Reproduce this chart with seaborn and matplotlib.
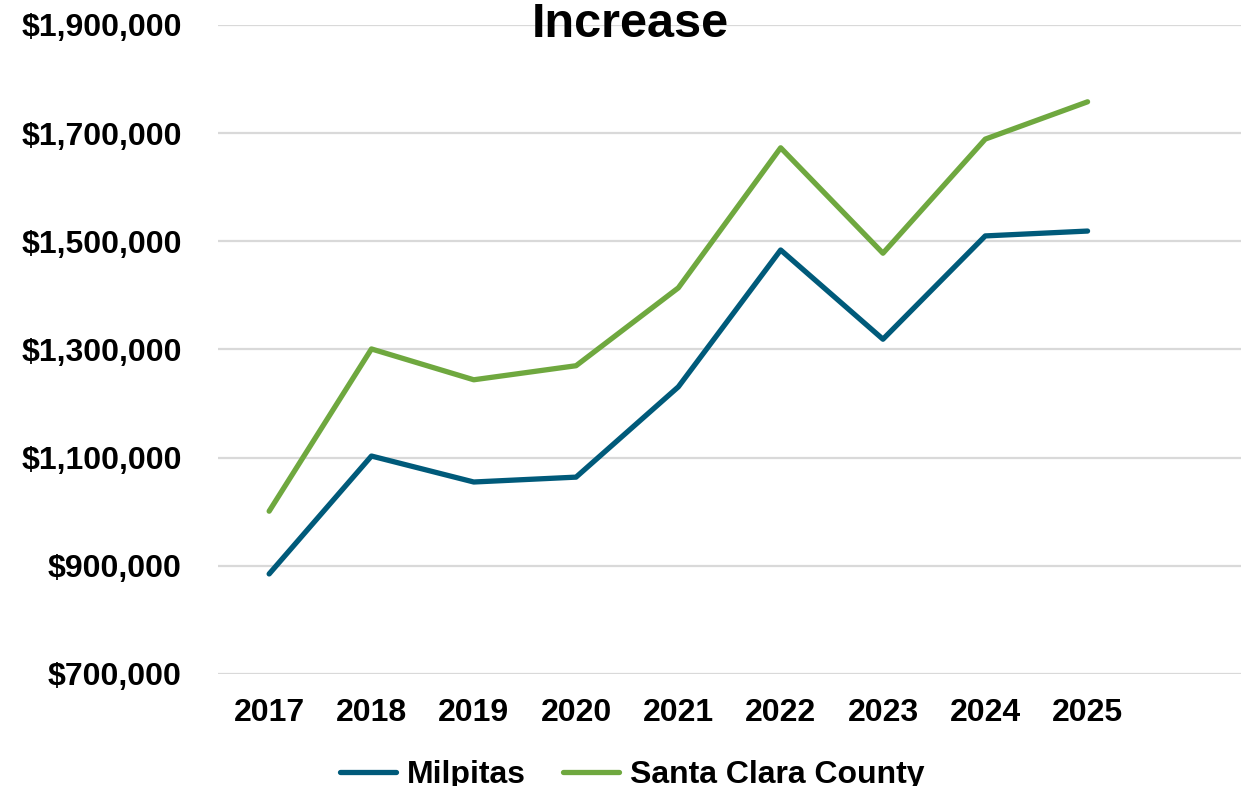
import pandas as pd
import matplotlib
matplotlib.use('Agg')
import matplotlib.pyplot as plt
import matplotlib.ticker as mticker
import seaborn as sns

# values
years = ['2017', '2018', '2019', '2020', '2021', '2022', '2023', '2024', '2025']
milpitas = [885000, 1103000, 1055000, 1064000, 1231000, 1484000, 1319000, 1510000, 1519000]
santa_clara = [1001000, 1301000, 1244000, 1270000, 1414000, 1673000, 1478000, 1689000, 1758000]
series_names = ['Milpitas', 'Santa Clara County']
colors = {'Milpitas': '#005A7A', 'Santa Clara County': '#6FA83F'}
y_ticks = [700000, 900000, 1100000, 1300000, 1500000, 1700000, 1900000]

df = pd.DataFrame({
    'year': years * 2,
    'value': milpitas + santa_clara,
    'series': [series_names[0]] * len(years) + [series_names[1]] * len(years),
})
df['pos'] = df['year'].map({y: i for i, y in enumerate(years)})

sns.set_style('white')
plt.rcParams['font.family'] = ['Liberation Sans', 'DejaVu Sans']
plt.rcParams['font.weight'] = 'bold'
plt.rcParams['text.color'] = 'black'
plt.rcParams['xtick.color'] = 'black'
plt.rcParams['ytick.color'] = 'black'

fig = plt.figure(figsize=(12.45, 7.86), dpi=100)
ax = fig.add_axes([0.1751, 0.1425, 0.8217, 0.8257])

sns.lineplot(data=df, x='pos', y='value', hue='series', hue_order=series_names,
             palette=colors, linewidth=3.8, ax=ax, legend=False,
             solid_capstyle='round', zorder=3)

ax.set_xlim(-0.5, 9.5)
ax.set_ylim(700000, 1900000)
ax.set_xticks(range(len(years)))
ax.set_xticklabels(years)
ax.set_yticks(y_ticks)
ax.yaxis.set_major_formatter(mticker.FuncFormatter(lambda v, p: '${:,.0f}'.format(v)))
ax.tick_params(axis='y', length=0, pad=26, labelsize=23, labelcolor='black')
ax.tick_params(axis='x', length=0, pad=17, labelsize=23, labelcolor='black')
for lbl in ax.get_xticklabels() + ax.get_yticklabels():
    lbl.set_fontweight('bold')
ax.set_xlabel('')
ax.set_ylabel('')
ax.grid(axis='y', color='#d9d9d9', linewidth=1.6)
ax.grid(axis='x', visible=False)
sns.despine(ax=ax, left=True, bottom=True, top=True, right=True)

fig.text(0.506, 0.953, 'Increase', ha='center', va='baseline',
         fontsize=35, fontweight='bold', color='black')

handles = [plt.Line2D([], [], color=colors[n], linewidth=3.8, solid_capstyle='round')
           for n in series_names]
leg = fig.legend(handles, series_names, loc='center', bbox_to_anchor=(0.508, 0.014),
                 ncol=2, frameon=False, handlelength=1.75, handletextpad=0.35,
                 columnspacing=1.15, prop={'size': 23, 'weight': 'bold'})
for t in leg.get_texts():
    t.set_color('black')

fig.savefig('out.png', dpi=100)
